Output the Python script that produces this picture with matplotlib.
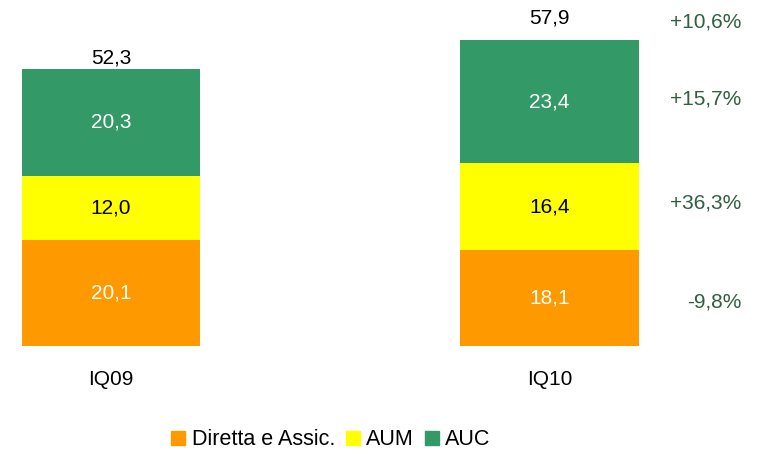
import numpy as np
import matplotlib.pyplot as plt
from matplotlib.patches import Patch

plt.rcParams['font.family'] = ['Liberation Sans', 'DejaVu Sans']

periods = ['IQ09', 'IQ10']
diretta = [20.1, 18.1]
aum = [12.0, 16.4]
auc = [20.3, 23.4]
totals = [52.3, 57.9]
growth = ['-9,8%', '+36,3%', '+15,7%', '+10,6%']

c_orange = '#FF9900'
c_yellow = '#FFFF00'
c_green = '#339966'
c_growth = '#2F5F3F'

def fmt(v):
    return f'{v:.1f}'.replace('.', ',')

fig = plt.figure(figsize=(7.61, 4.55), dpi=100)
ax = fig.add_axes([0, 0.2396, 1, 0.7604])

x = np.arange(len(periods))
w = 0.406
d = np.array(diretta)
a = np.array(aum)
c = np.array(auc)
top = d + a + c

ax.bar(x, d, w, color=c_orange)
ax.bar(x, a, w, bottom=d, color=c_yellow)
ax.bar(x, c, w, bottom=d + a, color=c_green)

fs = 15
tot_off = [1, 9]
for i in range(len(x)):
    ax.text(x[i], d[i] / 2, fmt(d[i]), ha='center', va='center', color='white', fontsize=fs)
    ax.text(x[i], d[i] + a[i] / 2, fmt(a[i]), ha='center', va='center', color='black', fontsize=fs)
    ax.text(x[i], d[i] + a[i] + c[i] / 2, fmt(c[i]), ha='center', va='center', color='white', fontsize=fs)
    ax.annotate(fmt(totals[i]), (x[i], top[i]), xytext=(0, tot_off[i]), textcoords='offset points',
                ha='center', va='bottom', fontsize=fs, annotation_clip=False)
    ax.annotate(periods[i], (x[i], 0), xytext=(0, -24), textcoords='offset points',
                ha='center', va='center', fontsize=fs, annotation_clip=False)

# variazioni a destra, allineate ai segmenti dell'ultima barra
last = len(x) - 1
ys = [d[last] / 2, d[last] + a[last] / 2, d[last] + a[last] + c[last] / 2, top[last]]
offs = [-3, 3, 2, 13]
for g, yv, o in zip(growth, ys, offs):
    ax.annotate(g, (1.4823, yv), xytext=(-14, o), textcoords='offset points',
                ha='right', va='center', fontsize=fs, color=c_growth, annotation_clip=False)

ax.set_xlim(-0.2531, 1.4823)
ax.set_ylim(0, 65.4)
ax.axis('off')

handles = [Patch(color=c_orange, label='Diretta e Assic.'),
           Patch(color=c_yellow, label='AUM'),
           Patch(color=c_green, label='AUC')]
fig.legend(handles=handles, loc='center', bbox_to_anchor=(0.435, 0.033), ncol=3, frameon=False,
           fontsize=15.5, handlelength=0.65, handleheight=0.65, handletextpad=0.3, columnspacing=0.5)

fig.savefig('out.png', dpi=100)
